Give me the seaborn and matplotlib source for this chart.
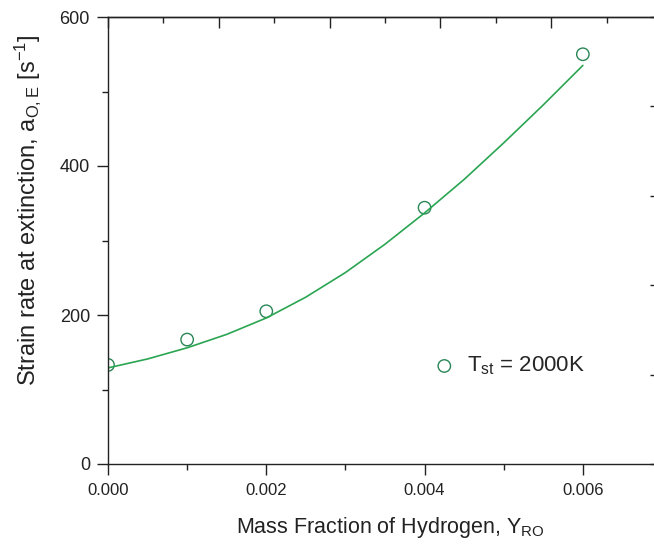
import numpy as np
import pandas as pd
import seaborn as sns
import matplotlib.pyplot as plt
from matplotlib.ticker import MultipleLocator, NullFormatter

# data
y_ro = [0.0, 0.001, 0.002, 0.004, 0.006]
strain_rate = [133, 167, 205, 344, 550]

# fitted curve, read at 0.0005 steps
fit_x = [0.0, 0.0005, 0.001, 0.0015, 0.002, 0.0025, 0.003,
         0.0035, 0.004, 0.0045, 0.005, 0.0055, 0.006]
fit_y = [129, 141, 156, 174, 196, 224, 257, 295, 337, 382, 431, 482, 535]

legend_label = r'T$_{\mathregular{st}}$ = 2000K'

sns.set_style('ticks')
plt.rcParams['font.family'] = ['Liberation Sans', 'DejaVu Sans']
plt.rcParams['mathtext.fontset'] = 'custom'
plt.rcParams['mathtext.rm'] = 'Liberation Sans'
plt.rcParams['mathtext.it'] = 'Liberation Sans'

points = pd.DataFrame({'x': y_ro, 'y': strain_rate})
curve = pd.DataFrame({'x': fit_x, 'y': fit_y})

fig = plt.figure(figsize=(6.54, 5.44), dpi=100)
ax = fig.add_axes([108 / 654, 80 / 544, 554 / 654, 447 / 544])

sns.lineplot(data=curve, x='x', y='y', ax=ax, color='#2aa552', lw=1.2)
sns.scatterplot(data=points, x='x', y='y', ax=ax, marker='o', s=80,
                facecolor='none', edgecolor='#2a8656', linewidth=1.0,
                label=legend_label)

ax.set_xlim(0, 0.007)
ax.set_ylim(0, 600)
ax.xaxis.set_major_locator(MultipleLocator(0.002))
ax.xaxis.set_minor_locator(MultipleLocator(0.001))
ax.yaxis.set_major_locator(MultipleLocator(200))
ax.yaxis.set_minor_locator(MultipleLocator(100))
ax.set_xticklabels(['%.3f' % v for v in ax.get_xticks()])

for s in ax.spines.values():
    s.set_linewidth(1.0)
    s.set_color('#222222')
ax.tick_params(which='major', length=8, width=1.0, pad=6,
               color='#222222', labelcolor='#222222')
ax.tick_params(which='minor', length=4, width=1.0, color='#222222')
ax.tick_params(axis='x', which='major', labelsize=12, pad=6)
ax.tick_params(axis='y', which='major', labelsize=13, pad=5)

top = ax.secondary_xaxis('top')
top.xaxis.set_major_locator(MultipleLocator(0.0014))
top.xaxis.set_minor_locator(MultipleLocator(0.0007))
top.xaxis.set_major_formatter(NullFormatter())
top.tick_params(which='major', direction='in', length=8, width=1.0, color='#222222')
top.tick_params(which='minor', direction='in', length=4, width=1.0, color='#222222')
top.spines['top'].set_linewidth(1.0)
top.spines['top'].set_color('#222222')

right = ax.secondary_yaxis('right')
right.yaxis.set_major_locator(MultipleLocator(120))
right.yaxis.set_major_formatter(NullFormatter())
right.tick_params(which='major', direction='in', length=9, width=1.0, color='#222222')
right.yaxis.set_minor_locator(MultipleLocator(600))

ax.set_xlabel(r'Mass Fraction of Hydrogen, Y$_{\mathregular{RO}}$', fontsize=15.5,
              color='#222222')
ax.set_ylabel(r'Strain rate at extinction, a$_{\mathregular{O,E}}$ [s$^{\mathregular{-1}}$]',
              fontsize=17, color='#222222')
ax.xaxis.set_label_coords(0.509, -0.115)
ax.yaxis.set_label_coords(-0.118, 0.568)

ax.legend(loc='center left', bbox_to_anchor=(0.587, 0.219), frameon=False,
          fontsize=16, handlelength=1.0, handletextpad=0.5, borderpad=0,
          borderaxespad=0)

fig.savefig('out.png', dpi=100)
